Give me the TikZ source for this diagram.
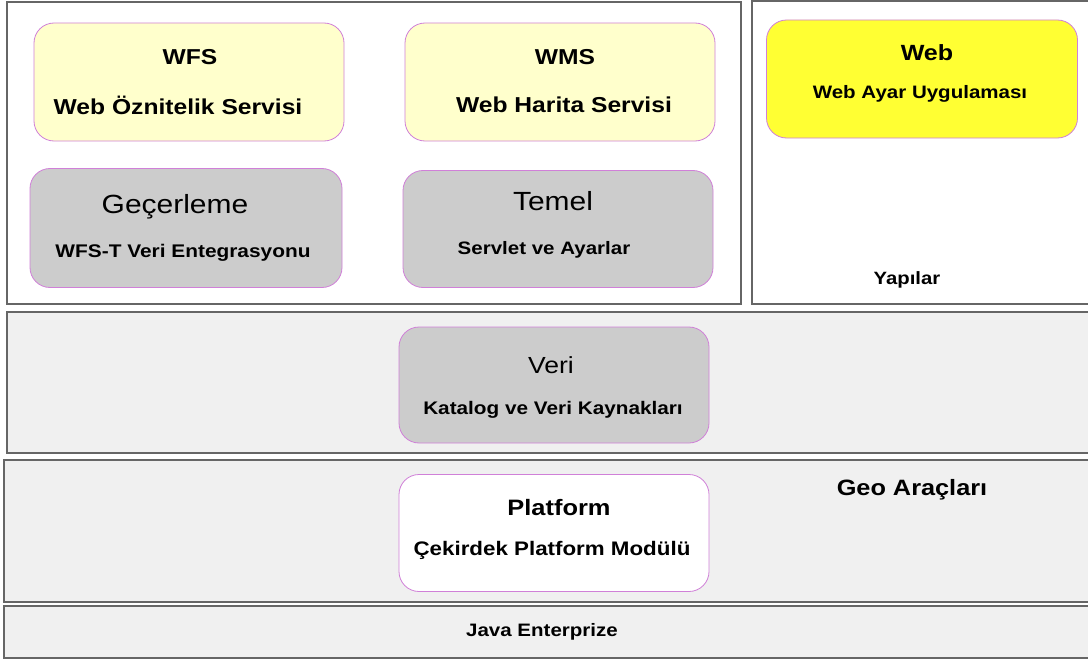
\documentclass[tikz,border=0pt]{standalone}
\usepackage{fontspec}
\setmainfont{Liberation Sans}
\newfontfamily\wide[FakeStretch=1.14]{Liberation Sans}
\tikzset{
  frame/.style={draw=gray!80!black, line width=1.6pt},
  layer/.style={frame, fill=layergray},
  module/.style={draw=modborder, line width=0.8pt, rounded corners=20pt},
  lbl/.style={inner sep=0pt, anchor=center, text=black},
}
\definecolor{layergray}{HTML}{F0F0F0}
\definecolor{modborder}{HTML}{D080D8}
\definecolor{paleyellow}{HTML}{FFFFCC}
\definecolor{modgray}{HTML}{CCCCCC}
\definecolor{brightyellow}{HTML}{FFFF33}
\newcommand{\fs}[1]{\wide\fontsize{#1}{#1}\selectfont}
\begin{document}
\begin{tikzpicture}[x=1pt,y=-1pt]
\useasboundingbox (0,0) rectangle (1088,661);
% frames / layers
\draw[frame, fill=white] (7,2) rectangle (741,304);
\draw[frame, fill=white] (752,1) rectangle (1092,304);
\draw[layer] (7,312) rectangle (1092,453);
\draw[layer] (4,460) rectangle (1092,602);
\draw[layer] (4,606) rectangle (1092,658);
% modules
\node[module, fill=paleyellow, minimum width=310pt, minimum height=118pt] (wfs) at (189,82) {};
\node[module, fill=modgray, minimum width=312pt, minimum height=119pt] (gec) at (186,228) {};
\node[module, fill=paleyellow, minimum width=310pt, minimum height=118pt] (wms) at (560,82) {};
\node[module, fill=modgray, minimum width=310pt, minimum height=117pt] (temel) at (558,229) {};
\node[module, fill=brightyellow, minimum width=311pt, minimum height=118pt] (web) at (922,79) {};
\node[module, fill=modgray, minimum width=310pt, minimum height=116pt] (veri) at (554,385) {};
\node[module, fill=white, minimum width=310pt, minimum height=117pt] (plat) at (554,533) {};
% texts
\node[lbl] (wfst) at (190,57) {\fs{21.6}\bfseries WFS};
\node[lbl] (wfss) at (178,105) {\fs{21.6}\bfseries Web Öznitelik Servisi};
\node[lbl] (wmst) at (565,57) {\fs{21.6}\bfseries WMS};
\node[lbl] (wmss) at (564,105) {\fs{21.6}\bfseries Web Harita Servisi};
\node[lbl] (gect) at (175,207) {\fs{26.3}Geçerleme};
\node[lbl] (gecs) at (183,253) {\fs{18.3}\bfseries WFS-T Veri Entegrasyonu};
\node[lbl] (temt) at (553,201) {\fs{26.3}Temel};
\node[lbl] (tems) at (544,250) {\fs{18}\bfseries Servlet ve Ayarlar};
\node[lbl] (webt) at (927,53) {\fs{22}\bfseries Web};
\node[lbl] (webs) at (920,94) {\fs{18}\bfseries Web Ayar Uygulaması};
\node[lbl] (yap) at (907,280) {\fs{17.8}\bfseries Yapılar};
\node[lbl] (verit) at (551,365) {\fs{23.3}Veri};
\node[lbl] (veris) at (553,410) {\fs{18.2}\bfseries Katalog ve Veri Kaynakları};
\node[lbl] (platt) at (559,508) {\fs{22.3}\bfseries Platform};
\node[lbl] (plats) at (552,550) {\fs{19.6}\bfseries Çekirdek Platform Modülü};
\node[lbl] (geo) at (912,490) {\fs{22.2}\bfseries Geo Araçları};
\node[lbl] (java) at (542,632) {\fs{18}\bfseries Java Enterprize};
\end{tikzpicture}
\end{document}
